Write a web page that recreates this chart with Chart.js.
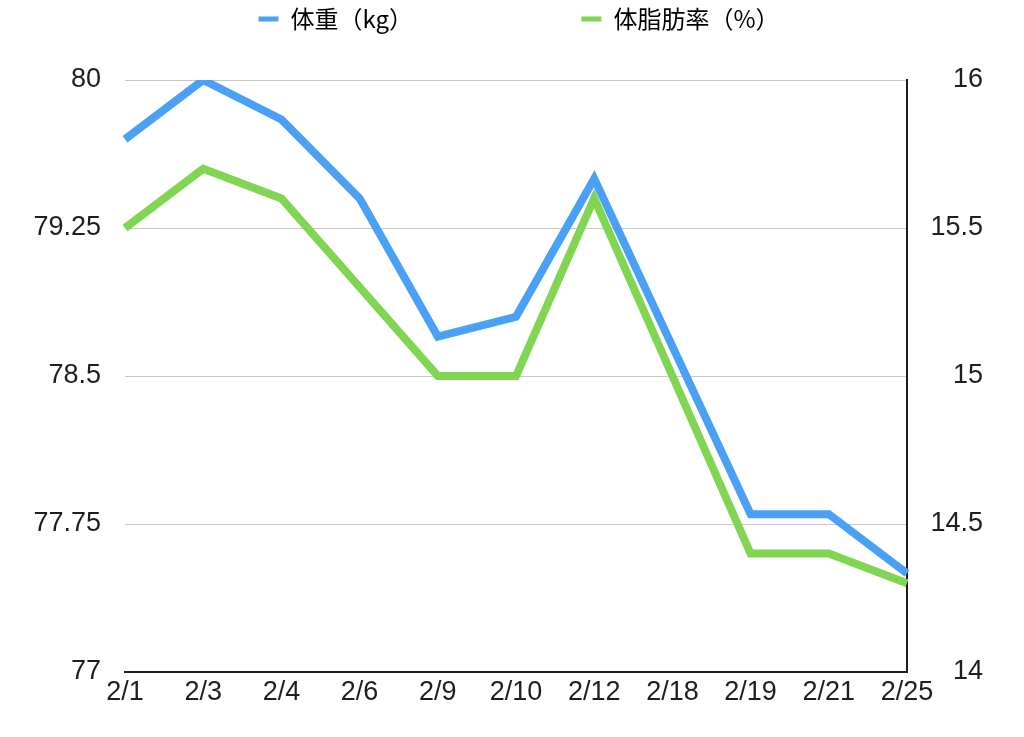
<!DOCTYPE html>
<html>
<head>
<meta charset="utf-8">
<script src="https://cdn.jsdelivr.net/npm/chart.js@4"></script>
<style>
  body { margin: 0; background: #fff; }
  #wrap { width: 1024px; height: 737px; }
</style>
</head>
<body>
<div id="wrap"><canvas id="chart" width="1024" height="737"></canvas></div>
<script>
const dates = ['2/1', '2/3', '2/4', '2/6', '2/9', '2/10', '2/12', '2/18', '2/19', '2/21', '2/25'];
const weight = [79.7, 80.0, 79.8, 79.4, 78.7, 78.8, 79.5, 78.65, 77.8, 77.8, 77.5];
const bodyFat = [15.5, 15.7, 15.6, 15.3, 15.0, 15.0, 15.6, 15.0, 14.4, 14.4, 14.3];
const weightTicks = [77, 77.75, 78.5, 79.25, 80];
const fatTicks = [14, 14.5, 15, 15.5, 16];
const seriesNames = ['体重（kg）', '体脂肪率（%）'];

const blue = '#4aa0f5';
const green = '#80d552';
const tickFont = { family: "'Liberation Sans', Arial, sans-serif", size: 27 };

// legend: taller box so the plot starts lower, and centred on the whole canvas
const legendSpace = {
    id: 'legendSpace',
    beforeInit(chart) {
        const fit = chart.legend.fit;
        chart.legend.fit = function () {
            fit.call(this);
            this.height = 80;
        };
    },
    afterLayout(chart) {
        chart.legend.left = 14;
        chart.legend.right = chart.width;
        chart.legend.width = chart.width - 14;
    }
};

new Chart(document.getElementById('chart'), {
    type: 'line',
    data: {
        labels: dates,
        datasets: [{
            label: seriesNames[0],
            data: weight,
            yAxisID: 'y',
            borderColor: blue,
            backgroundColor: blue,
            borderWidth: 8,
            pointRadius: 0,
            tension: 0,
            order: 1
        }, {
            label: seriesNames[1],
            data: bodyFat,
            yAxisID: 'y1',
            borderColor: green,
            backgroundColor: green,
            borderWidth: 8,
            pointRadius: 0,
            tension: 0,
            order: 0
        }]
    },
    options: {
        responsive: false,
        animation: false,
        layout: { padding: { right: 41 } },
        plugins: {
            tooltip: { enabled: false },
            legend: {
                position: 'top',
                fullSize: true,
                labels: {
                    font: { family: "'Noto Sans CJK JP', sans-serif", size: 24 },
                    color: '#1e1e1e',
                    boxWidth: 20,
                    boxHeight: 5,
                    padding: 7,
                    generateLabels(chart) {
                        return chart.data.datasets.map((ds, i) => ({
                            text: i === 0 ? ds.label + '\u3000'.repeat(7) + ' ' : ds.label,
                            fillStyle: ds.borderColor,
                            strokeStyle: ds.borderColor,
                            lineWidth: 0,
                            hidden: false,
                            datasetIndex: i
                        }));
                    }
                }
            }
        },
        scales: {
            x: {
                offset: false,
                grid: { drawOnChartArea: false, drawTicks: false },
                border: { display: true, color: '#1e1e1e', width: 2 },
                ticks: { font: tickFont, color: '#1e1e1e', padding: 4, maxRotation: 0, autoSkip: false },
                afterFit(s) { s.height = 65; }
            },
            y: {
                position: 'left',
                min: 77,
                max: 80,
                grid: { color: '#c8c8c8', lineWidth: 1, drawTicks: false },
                border: { display: false },
                ticks: {
                    font: tickFont, color: '#1e1e1e', padding: 24,
                    callback: v => String(v)
                },
                afterBuildTicks(s) { s.ticks = weightTicks.map(v => ({ value: v })); },
                afterFit(s) { s.width = 125; }
            },
            y1: {
                position: 'right',
                min: 14,
                max: 16,
                grid: { drawOnChartArea: false, drawTicks: false },
                border: { display: true, color: '#1e1e1e', width: 2 },
                ticks: {
                    font: tickFont, color: '#1e1e1e', padding: 24, crossAlign: 'far',
                    callback: v => String(v)
                },
                afterBuildTicks(s) { s.ticks = fatTicks.map(v => ({ value: v })); },
                afterFit(s) { s.width = 76; }
            }
        }
    },
    plugins: [legendSpace]
});
</script>
</body>
</html>
